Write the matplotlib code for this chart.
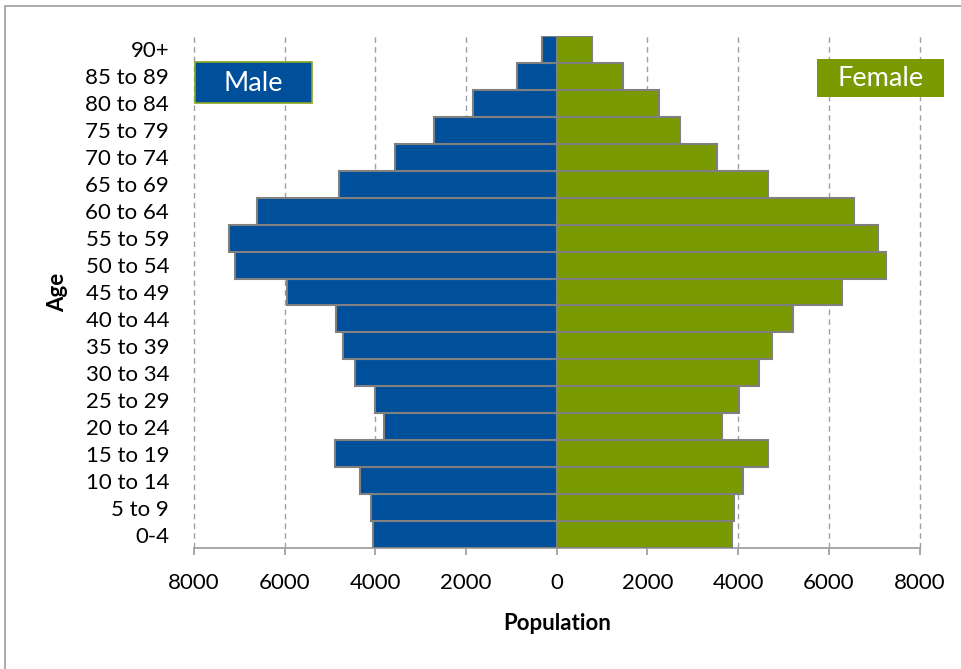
import numpy as np
import matplotlib.pyplot as plt
from matplotlib.patches import Rectangle

# Age groups, youngest first (drawn bottom to top)
age_groups = ['0-4', '5 to 9', '10 to 14', '15 to 19', '20 to 24', '25 to 29',
              '30 to 34', '35 to 39', '40 to 44', '45 to 49', '50 to 54',
              '55 to 59', '60 to 64', '65 to 69', '70 to 74', '75 to 79',
              '80 to 84', '85 to 89', '90+']

male = [4060, 4090, 4330, 4900, 3800, 4010, 4440, 4710, 4870, 5940, 7100,
        7220, 6620, 4800, 3570, 2710, 1840, 870, 330]
female = [3870, 3920, 4100, 4650, 3650, 4010, 4470, 4750, 5200, 6280, 7260,
          7080, 6560, 4650, 3530, 2720, 2260, 1460, 770]

x_ticks = [-8000, -6000, -4000, -2000, 0, 2000, 4000, 6000, 8000]

blue = '#004F9A'
green = '#7A9A01'
edge = '#808080'

plt.rcParams['font.family'] = ['Lato', 'DejaVu Sans']

fig = plt.figure(figsize=(9.62, 6.69), dpi=100)
ax = fig.add_axes([194 / 962, 1 - 548 / 669, 725.5 / 962, 512 / 669])

y = np.arange(len(age_groups))
ax.barh(y, -np.array(male), height=1.0, color=blue, edgecolor=edge, linewidth=1.5, zorder=3)
ax.barh(y, female, height=1.0, color=green, edgecolor=edge, linewidth=1.5, zorder=3)

ax.set_xlim(-8000, 8000)
ax.set_ylim(-0.5, len(age_groups) - 0.5)
ax.set_xticks(x_ticks)
ax.set_xticklabels([str(abs(v)) for v in x_ticks], fontsize=16)
ax.set_yticks(y)
ax.set_yticklabels(age_groups, fontsize=16)

# dashed vertical gridlines, including both outer edges
for v in x_ticks:
    ax.axvline(v, linestyle=(0, (4, 3)), color='#A0A0A0', linewidth=1,
               zorder=0, clip_on=False)
for s in ['top', 'right', 'left']:
    ax.spines[s].set_visible(False)
ax.spines['bottom'].set_color('#A0A0A0')
ax.spines['bottom'].set_linewidth(1.3)
ax.tick_params(axis='x', direction='out', length=5, color='#A0A0A0', width=1.3, pad=13)
ax.tick_params(axis='y', length=0, pad=18)

ax.set_xlabel('Population', fontsize=16, fontweight='bold', va='center')
ax.xaxis.set_label_coords(0.5, (548 - 624) / 512)
ax.set_ylabel('Age', fontsize=16, fontweight='bold', va='center')
ax.yaxis.set_label_coords((58 - 194) / 725.5, 0.5)

# Series name boxes
ax.add_patch(Rectangle((0.0014, 0.870), 0.161, 0.080, transform=ax.transAxes,
                       facecolor=blue, edgecolor='#8AA61E', linewidth=1.2,
                       clip_on=False, zorder=5))
ax.text(0.0014 + 0.0805, 0.908, 'Male', transform=ax.transAxes, ha='center',
        va='center', color='white', fontsize=19.5, zorder=6)
ax.add_patch(Rectangle((0.859, 0.881), 0.175, 0.075, transform=ax.transAxes,
                       facecolor=green, edgecolor='none', clip_on=False, zorder=5))
ax.text(0.859 + 0.0875, 0.9165, 'Female', transform=ax.transAxes, ha='center',
        va='center', color='white', fontsize=19.5, zorder=6)

# Chart area border
fig.patches.append(Rectangle((5 / 962, -0.01), 2, 1 - 6 / 669 + 0.01,
                             transform=fig.transFigure, fill=False,
                             edgecolor='#A6A6A6', linewidth=1.3))

fig.savefig('out.png', dpi=100)
